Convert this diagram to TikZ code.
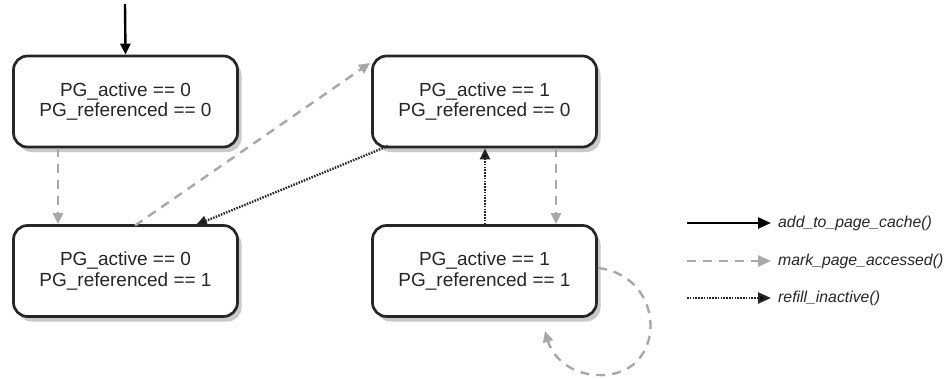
\documentclass[tikz,border=0pt]{standalone}
\usepackage{fontspec}
\setmainfont{Liberation Sans}
\usetikzlibrary{arrows.meta,shadows}
\definecolor{dgray}{HTML}{A8A8A8}
\definecolor{boxline}{HTML}{262626}
\begin{document}
\begin{tikzpicture}[x=1pt,y=-1pt,
  statebox/.style={draw=boxline, line width=2.7pt, rounded corners=14pt, fill=white,
    minimum width=224pt, minimum height=91pt, align=center, inner sep=0pt,
    font=\fontsize{19}{20.5}\selectfont, text=black!85,
    drop shadow={shadow xshift=4pt, shadow yshift=-5pt, opacity=0.35, fill=black!60}},
  solidarr/.style={line width=2.4pt, draw=black, -{Triangle[length=11pt,width=10pt]}},
  grayarr/.style={line width=2.4pt, draw=dgray, dash pattern=on 9pt off 7pt, -{Triangle[length=11pt,width=10pt,fill=dgray]}},
  dotarr/.style={line width=2.4pt, draw=black!85, dash pattern=on 1.5pt off 1.3pt, -{Triangle[length=11pt,width=10pt,fill=black]}},
  legtext/.style={anchor=west, inner sep=0pt, font=\fontsize{15.8}{18}\selectfont\itshape, text=black!85}
]
\useasboundingbox (0,0) rectangle (945,378);
\fill[white] (0,0) rectangle (945,378);

\node[statebox] (b1) at (125.5,101.5) {PG\_active == 0\\PG\_referenced == 0};
\node[statebox] (b2) at (484.5,101.5) {PG\_active == 1\\PG\_referenced == 0};
\node[statebox] (b3) at (125.5,271) {PG\_active == 0\\PG\_referenced == 1};
\node[statebox] (b4) at (484.5,271) {PG\_active == 1\\PG\_referenced == 1};

% entry arrow
\coordinate (start) at (125,4);
\draw[solidarr] (start) -- (b1.north);

% gray dashed arrows
\draw[grayarr] (b1.south -| 58,0) -- (b3.north -| 58,0);
\draw[grayarr] (b2.south -| 556,0) -- (b4.north -| 556,0);
\coordinate (g3) at (135,225.5);
\coordinate (g2) at (370,63);
\draw[grayarr] (g3) -- (g2);

% dotted arrows
\coordinate (d2) at (388,146);
\coordinate (d3) at (196,225);
\draw[dotarr] (d2) -- (d3);
\draw[dotarr] (b4.north -| 485,0) -- (b2.south -| 485,0);

% self loop
\coordinate (l1) at (598,268);
\coordinate (l2) at (545,331);
\draw[grayarr] (l1) .. controls (668,276) and (668,378) .. (598,375)
  .. controls (568,374) and (552,355) .. (l2);

% legend
\coordinate (a1) at (687,223);
\coordinate (a2) at (771,223);
\coordinate (c1) at (687,261);
\coordinate (c2) at (771,261);
\coordinate (e1) at (687,298);
\coordinate (e2) at (771,298);
\draw[solidarr, -{Triangle[length=13pt,width=11pt]}] (a1) -- (a2);
\draw[grayarr, -{Triangle[length=13pt,width=11pt,fill=dgray]}] (c1) -- (c2);
\draw[dotarr, -{Triangle[length=13pt,width=11pt,fill=black]}] (e1) -- (e2);
\node[legtext] (t1) at (778,223) {add\_to\_page\_cache()};
\node[legtext] (t2) at (778,261) {mark\_page\_accessed()};
\node[legtext] (t3) at (778,298) {refill\_inactive()};
\end{tikzpicture}
\end{document}
